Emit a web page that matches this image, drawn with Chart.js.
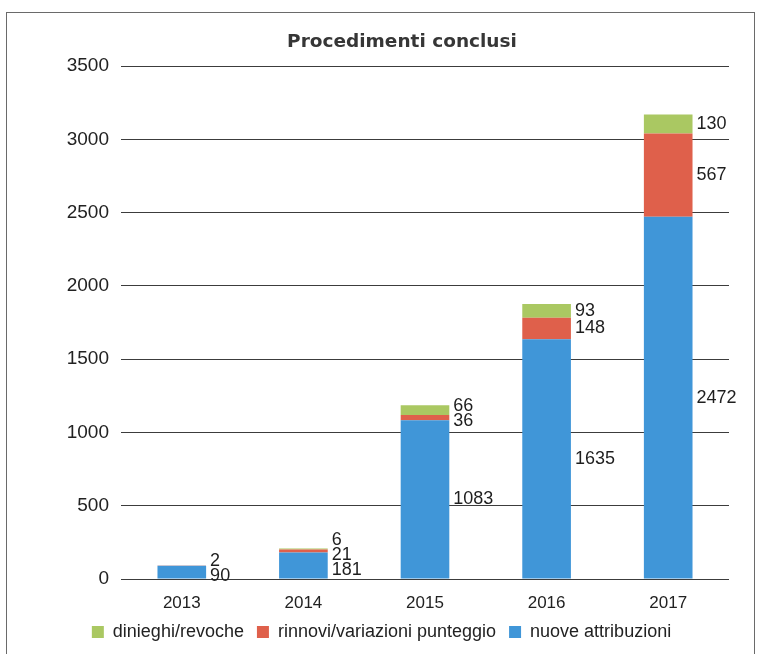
<!DOCTYPE html>
<html lang="it">
<head>
<meta charset="utf-8">
<title>Procedimenti conclusi</title>
<script src="https://cdn.jsdelivr.net/npm/chart.js@4.4.1/dist/chart.umd.min.js"></script>
<style>
  html, body { margin: 0; padding: 0; background: #fff; }
  #wrap { position: relative; width: 763px; height: 654px; overflow: hidden; }
  #frame { position: absolute; left: 6px; top: 12px; width: 749px; height: 700px;
           border: 1.5px solid #6a6a6a; box-sizing: border-box; pointer-events: none; }
  canvas { position: absolute; left: 0; top: 0; }
</style>
</head>
<body>
<div id="wrap">
  <canvas id="chart" width="763" height="654"></canvas>
  <div id="frame"></div>
</div>
<script>
// Years on the category axis
const years = ['2013', '2014', '2015', '2016', '2017'];

// Procedures closed per year, by type
const nuoveAttribuzioni = [90, 181, 1083, 1635, 2472];
const rinnoviVariazioni = [2, 21, 36, 148, 567];
const dinieghiRevoche = [0, 6, 66, 93, 130];

// Y axis ticks
const yTicks = [0, 500, 1000, 1500, 2000, 2500, 3000, 3500];

const chartTitle = 'Procedimenti conclusi';

const FONT = '"Liberation Sans", Arial, sans-serif';

// Title drawn over the plot area
const titlePlugin = {
  id: 'plotTitle',
  afterDraw(chart) {
    const { ctx, chartArea } = chart;
    ctx.save();
    ctx.font = 'bold 18.5px "DejaVu Sans", sans-serif';
    ctx.fillStyle = '#363636';
    ctx.textAlign = 'center';
    ctx.textBaseline = 'middle';
    ctx.fillText(chartTitle, (chartArea.left + chartArea.right) / 2 - 23, 42);
    ctx.restore();
  }
};

// Value labels beside each stacked segment, spread apart where they would collide
const stackLabels = {
  id: 'stackLabels',
  afterDatasetsDraw(chart) {
    const { ctx } = chart;
    const gap = 15;
    ctx.save();
    ctx.font = '18px ' + FONT;
    ctx.fillStyle = '#1e1e1e';
    ctx.textAlign = 'left';
    ctx.textBaseline = 'middle';
    chart.data.labels.forEach((_, i) => {
      const items = [];
      chart.data.datasets.forEach((ds, di) => {
        const v = ds.data[i];
        if (!v) return;
        const el = chart.getDatasetMeta(di).data[i];
        items.push({ text: String(v), want: (el.y + el.base) / 2, x: el.x + el.width / 2 + 4 });
      });
      items.sort((a, b) => a.want - b.want);
      let clusters = items.map(it => ({ members: [it], center: it.want }));
      let merged = true;
      while (merged) {
        merged = false;
        for (let k = 0; k < clusters.length - 1; k++) {
          const a = clusters[k], b = clusters[k + 1];
          const aBottom = a.center + (a.members.length - 1) / 2 * gap;
          const bTop = b.center - (b.members.length - 1) / 2 * gap;
          if (bTop - aBottom < gap) {
            const members = a.members.concat(b.members);
            const center = members.reduce((s, m) => s + m.want, 0) / members.length;
            clusters.splice(k, 2, { members, center });
            merged = true;
            break;
          }
        }
      }
      clusters.forEach(c => c.members.forEach((m, j) => {
        ctx.fillText(m.text, m.x, c.center + (j - (c.members.length - 1) / 2) * gap);
      }));
    });
    ctx.restore();
  }
};

new Chart(document.getElementById('chart'), {
  type: 'bar',
  data: {
    labels: years,
    datasets: [
      { label: 'nuove attribuzioni', data: nuoveAttribuzioni, backgroundColor: '#4096d8' },
      { label: 'rinnovi/variazioni punteggio', data: rinnoviVariazioni, backgroundColor: '#df604b' },
      { label: 'dinieghi/revoche', data: dinieghiRevoche, backgroundColor: '#aac862' }
    ]
  },
  options: {
    responsive: false,
    animation: false,
    devicePixelRatio: 1,
    layout: { padding: { top: 66, left: 0, right: 0, bottom: 3 } },
    datasets: { bar: { barPercentage: 0.4, categoryPercentage: 1.0 } },
    scales: {
      x: {
        stacked: true,
        afterFit(scale) { scale.height = 31; },
        grid: { display: false, drawTicks: false },
        border: { display: false },
        ticks: { color: '#222', font: { family: FONT, size: 17 }, padding: 14 }
      },
      y: {
        stacked: true,
        min: 0,
        max: 3500,
        afterBuildTicks(scale) { scale.ticks = yTicks.map(v => ({ value: v })); },
        afterFit(scale) { scale.width = 121; },
        grid: { color: '#3c3c3c', lineWidth: 1, drawTicks: false },
        border: { display: false },
        ticks: {
          color: '#222',
          font: { family: FONT, size: 19 },
          padding: 12,
          callback: v => String(v)
        }
      },
      yRight: {
        position: 'right',
        display: true,
        grid: { display: false, drawTicks: false },
        border: { display: false },
        ticks: { display: false },
        afterFit(scale) { scale.width = 34; }
      }
    },
    plugins: {
      title: { display: false },
      tooltip: { enabled: false },
      legend: {
        position: 'bottom',
        reverse: true,
        labels: {
          color: '#222',
          font: { family: FONT, size: 18 },
          boxWidth: 12,
          boxHeight: 12,
          padding: 13
        }
      }
    }
  },
  plugins: [titlePlugin, stackLabels]
});
</script>
</body>
</html>
